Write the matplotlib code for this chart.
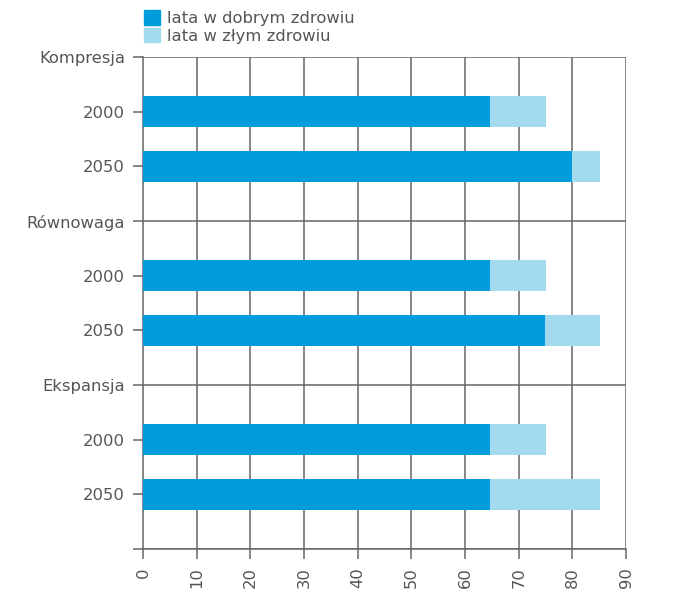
import matplotlib
matplotlib.use("Agg")
import matplotlib.pyplot as plt
from matplotlib.patches import Patch

plt.rcParams['font.family'] = ['DejaVu Sans']

row_labels = ["Kompresja", "2000", "2050", "Równowaga", "2000", "2050",
              "Ekspansja", "2000", "2050", ""]
bar_rows = [1, 2, 4, 5, 7, 8]
good_years = [64.6, 79.9, 64.6, 74.9, 64.6, 64.6]
bad_years = [10.4, 5.2, 10.4, 10.2, 10.4, 20.5]
group_rows = [0, 3, 6, 9]
series_names = ["lata w dobrym zdrowiu", "lata w złym zdrowiu"]
x_ticks = [0, 10, 20, 30, 40, 50, 60, 70, 80, 90]

dark = "#019cdb"
light = "#a3daee"
grid_c = "#666666"
text_c = "#555555"
fs = 11.8

fig = plt.figure(figsize=(6.91, 6.01), dpi=100)
ax = fig.add_axes([0.207, 0.0865, 0.699, 0.8185])

ax.barh(bar_rows, good_years, height=0.57, color=dark, zorder=3)
ax.barh(bar_rows, bad_years, left=good_years, height=0.57, color=light, zorder=3)

ax.set_xlim(0, 90)
ax.set_ylim(9, 0)
ax.set_xticks(x_ticks)
ax.set_xticklabels([str(v) for v in x_ticks], rotation=90, fontsize=fs, color=text_c)
ax.set_yticks(range(len(row_labels)))
ax.set_yticklabels(row_labels, fontsize=fs, color=text_c)

for v in x_ticks[1:]:
    ax.axvline(v, color=grid_c, lw=1.1, zorder=1)
for r in group_rows:
    ax.axhline(r, color=grid_c, lw=1.1, zorder=1)

for s in ax.spines.values():
    s.set_visible(False)
ax.spines['left'].set_visible(True)
ax.spines['bottom'].set_visible(True)
ax.spines['left'].set_color(grid_c)
ax.spines['bottom'].set_color(grid_c)
ax.spines['left'].set_linewidth(1.1)
ax.spines['bottom'].set_linewidth(1.1)
ax.tick_params(axis='both', color=grid_c, width=1.1, length=7, pad=6)

handles = [Patch(color=dark), Patch(color=light)]
fig.legend(handles, series_names, loc="upper left", bbox_to_anchor=(0.196, 0.997),
           frameon=False, fontsize=fs, handlelength=1.0, handleheight=1.0,
           labelspacing=0.1, borderpad=0, handletextpad=0.45, labelcolor=text_c)

fig.savefig("out.png", dpi=100)
